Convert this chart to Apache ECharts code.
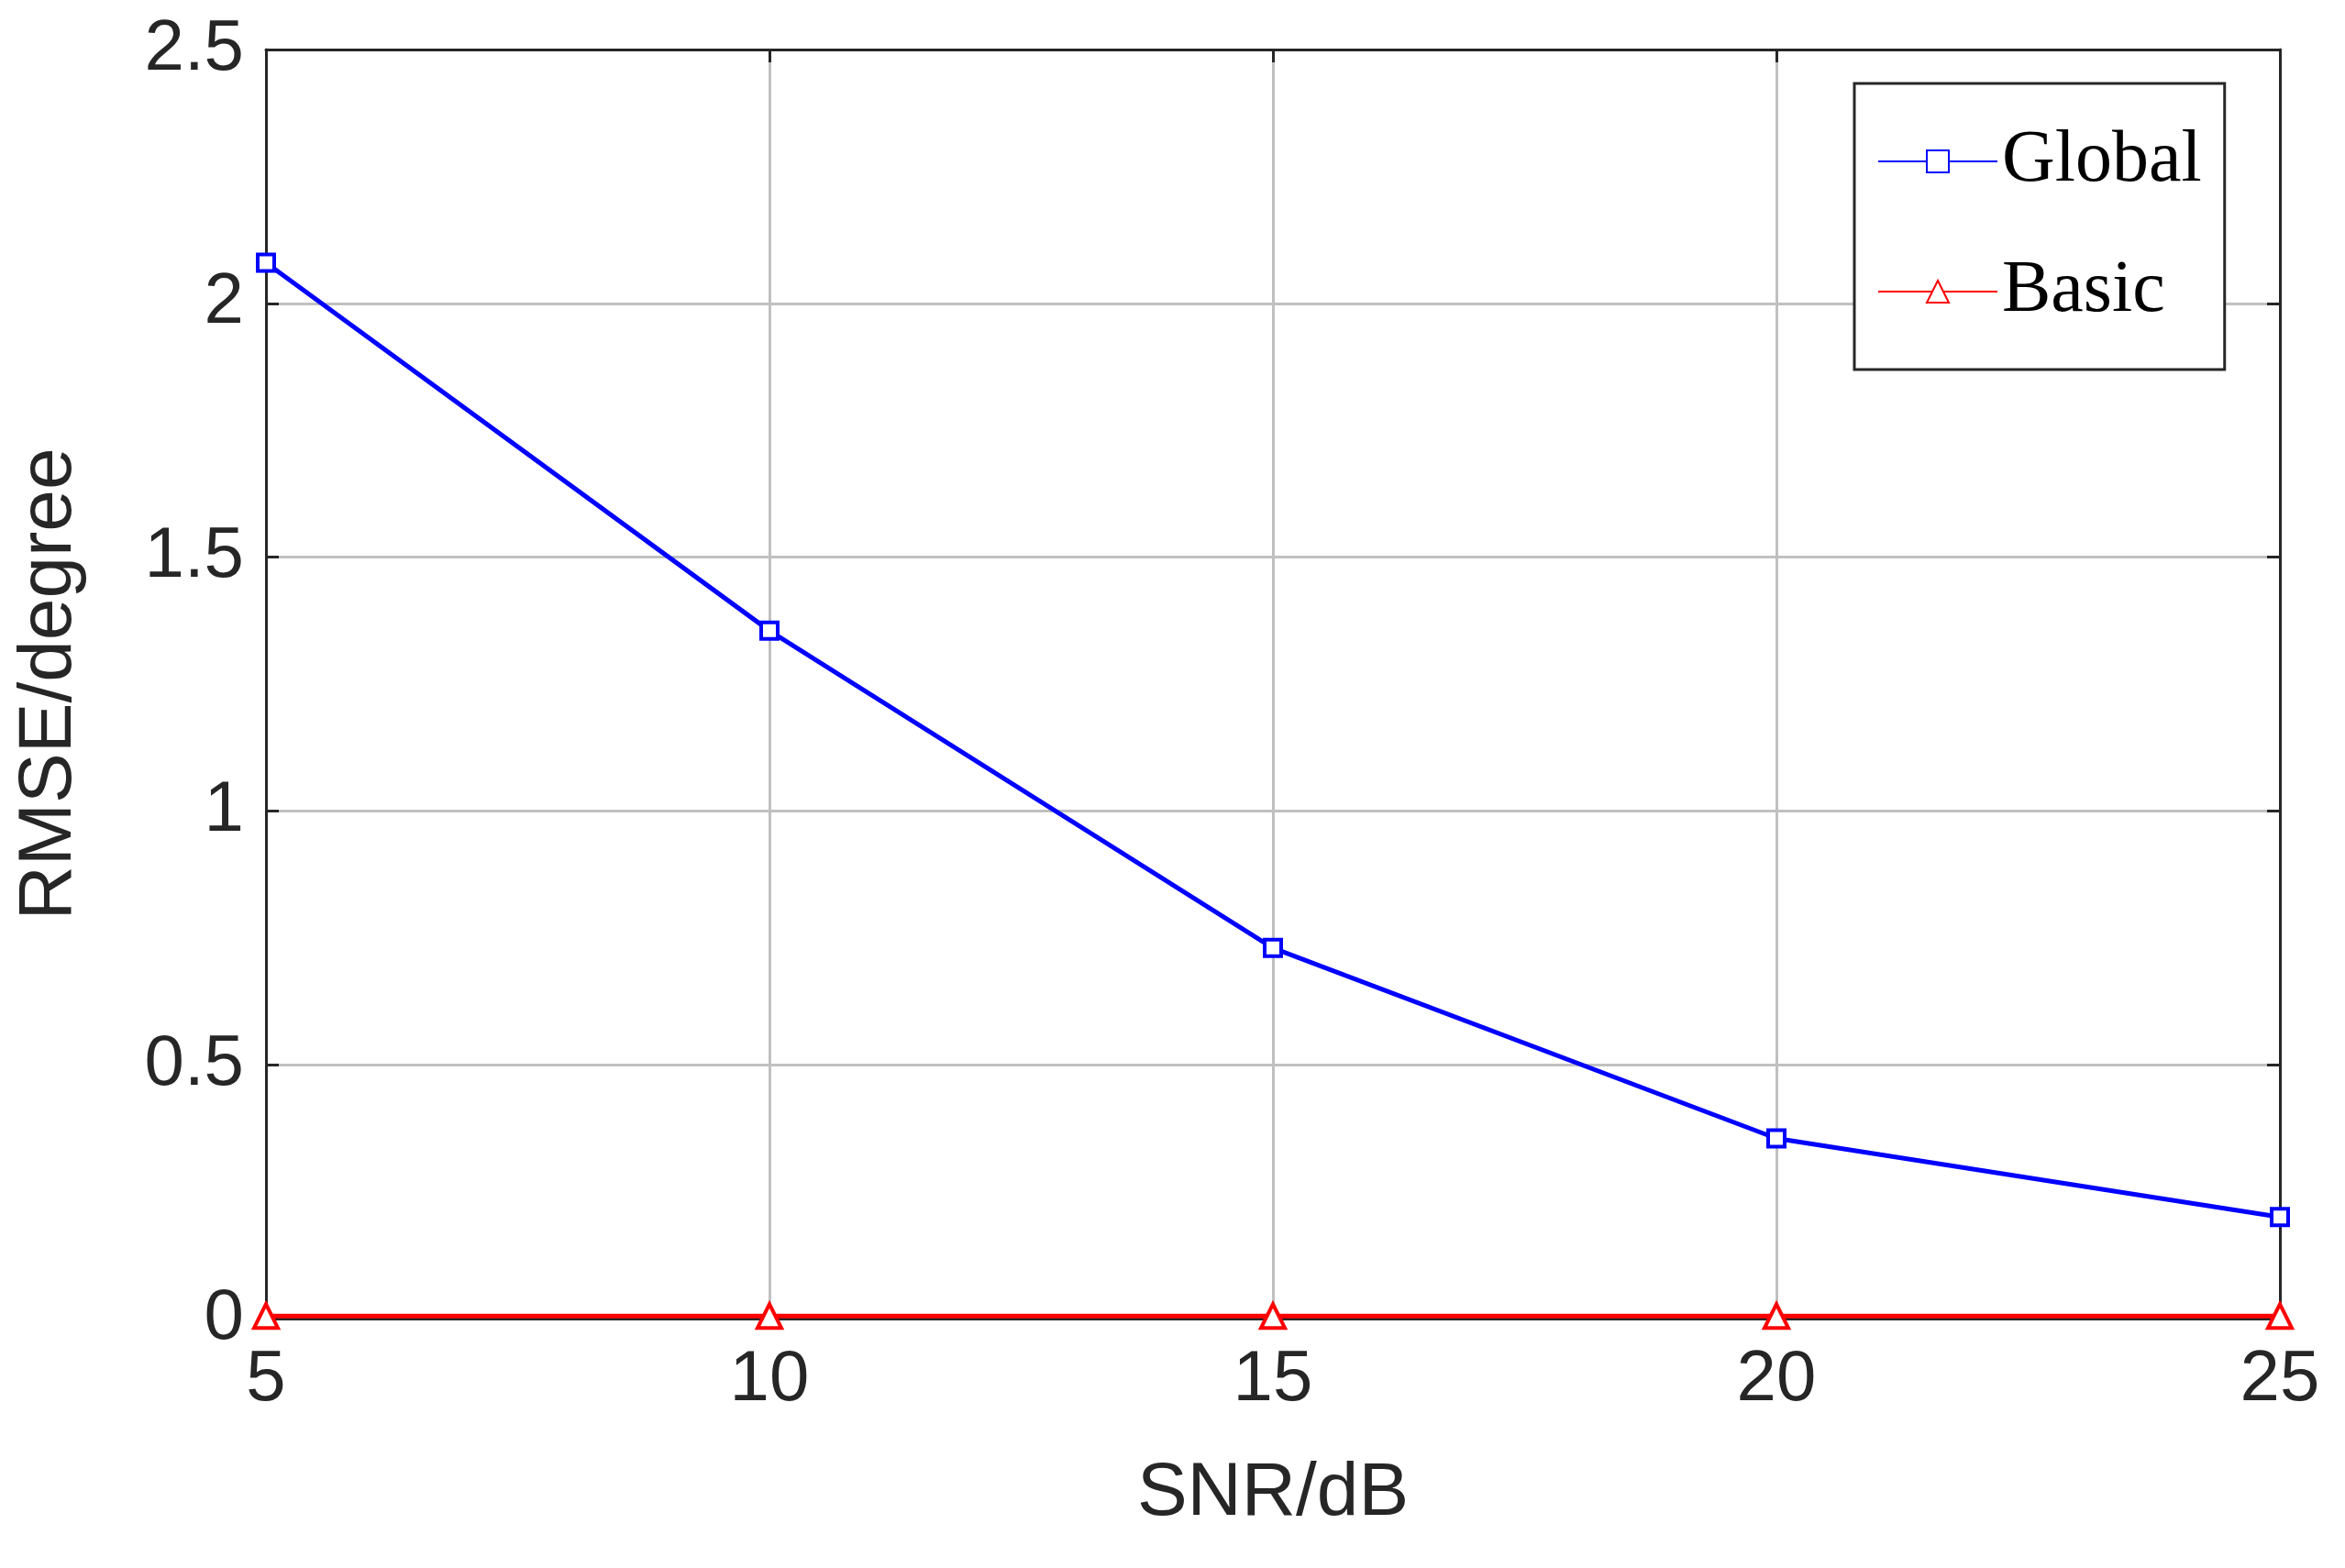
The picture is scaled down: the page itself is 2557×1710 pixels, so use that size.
<!DOCTYPE html>
<html><head><meta charset="utf-8">
<script src="https://cdn.jsdelivr.net/npm/echarts@6/dist/echarts.min.js"></script>
<style>html,body{margin:0;padding:0;background:#fff}#c{width:2557px;height:1710px}</style>
</head><body><div id="c"></div>
<script>
const snr = [5, 10, 15, 20, 25];
const globalVals = [2.08, 1.355, 0.73, 0.355, 0.2];
const basicVals = [0.005, 0.005, 0.005, 0.005, 0.005];
const chart = echarts.init(document.getElementById('c'));
const ax = {color:'#262626', fontSize:78, fontFamily:'Liberation Sans'};
const line = {show:true, onZero:false, lineStyle:{color:'#262626', width:3}};
const tick = {show:true, inside:true, length:14, lineStyle:{color:'#262626', width:3}};
const split = {lineStyle:{color:'#c0c0c0', width:3}};
chart.setOption({
  animation:false,
  grid:{left:290, right:71, top:54, bottom:272},
  xAxis:[{type:'value', min:5, max:25, interval:5, name:'SNR/dB', nameLocation:'middle', nameGap:150,
    nameTextStyle:{...ax, fontSize:82}, axisLabel:{...ax, margin:28}, axisLine:line, axisTick:tick, splitLine:split, z:5},
    {type:'value', position:'top', min:5, max:25, interval:5, axisLabel:{show:false}, axisLine:line, axisTick:tick, splitLine:{show:false}, z:5}],
  yAxis:[{type:'value', min:0, max:2.5, interval:0.5, name:'RMSE/degree', nameLocation:'middle', nameGap:195,
    nameTextStyle:{...ax, fontSize:82}, axisLabel:{...ax, margin:24}, axisLine:line, axisTick:tick, splitLine:split, z:5},
    {type:'value', position:'right', min:0, max:2.5, interval:0.5, axisLabel:{show:false}, axisLine:line, axisTick:tick, splitLine:{show:false}, z:5}],
  legend:{orient:'vertical', left:2022, top:91, backgroundColor:'#fff', borderColor:'#262626', borderWidth:3,
    padding:[45,25,45,25], itemGap:62, itemWidth:130, itemHeight:30, z:20,
    textStyle:{fontFamily:'Liberation Serif', fontSize:80, color:'#000'},
    data:['Global','Basic']},
  series:[
    {name:'Global', type:'line', data:snr.map((x,i)=>[x,globalVals[i]]), z:10,
     lineStyle:{width:5, color:'#0000ff'}, symbol:'rect', symbolSize:18, itemStyle:{color:'#fff', borderColor:'#0000ff', borderWidth:4}},
    {name:'Basic', type:'line', data:snr.map((x,i)=>[x,basicVals[i]]), z:10,
     lineStyle:{width:5, color:'#ff0000'}, symbol:'triangle', symbolSize:26, itemStyle:{color:'#fff', borderColor:'#ff0000', borderWidth:4}}
  ]
});
</script></body></html>
